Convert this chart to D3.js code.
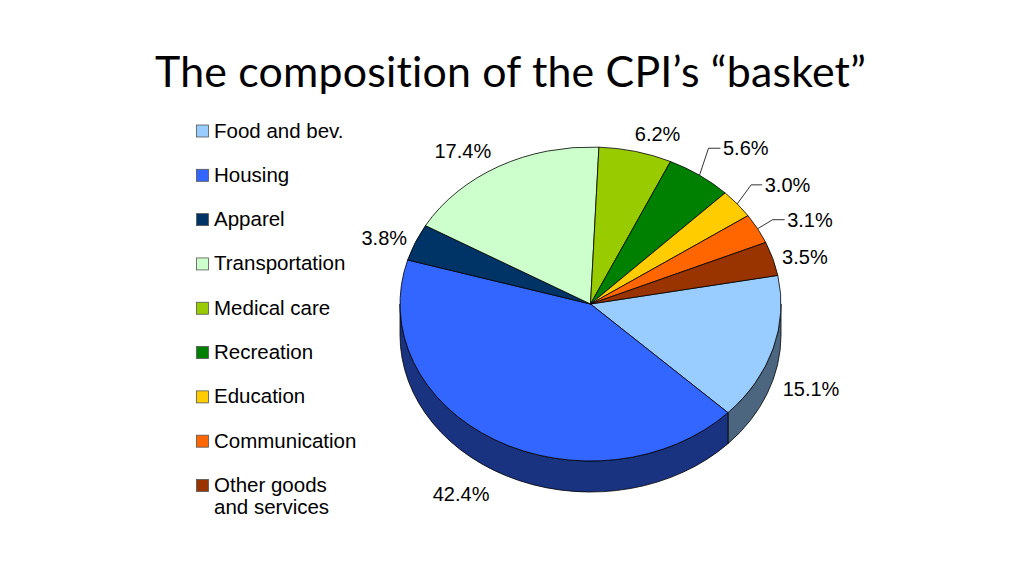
<!DOCTYPE html>
<html>
<head>
<meta charset="utf-8">
<script src="https://cdn.jsdelivr.net/npm/d3@7"></script>
<style>
  html, body { margin: 0; padding: 0; background: #fff; }
  svg { display: block; }
  text { font-variant-ligatures: none; font-feature-settings: "liga" 0, "dlig" 0, "clig" 0; }
  .title { letter-spacing: 0.2px; }
</style>
</head>
<body>
<svg id="chart" width="1024" height="576"></svg>
<script>
// ---- data ----
const categories = ["Food and bev.", "Housing", "Apparel", "Transportation", "Medical care", "Recreation", "Education", "Communication", "Other goods and services"];
const legendLines = [["Food and bev."], ["Housing"], ["Apparel"], ["Transportation"], ["Medical care"], ["Recreation"], ["Education"], ["Communication"], ["Other goods", "and services"]];
const values = [15.1, 42.4, 3.8, 17.4, 6.2, 5.6, 3.0, 3.1, 3.5];
const colors = ["#99ccff", "#3366ff", "#003366", "#ccffcc", "#99cc00", "#008000", "#ffcc00", "#ff6600", "#993300"];
const title = "The composition of the CPI\u2019s \u201cbasket\u201d";

// ---- layout ----
const W = 1024, H = 576;
const cx = 590.5, cy = 304, rx = 190.5, ry = 157, depth = 31;
const startDeg = 79.5;
// label placement relative to the slice's outer edge point at its mid angle
const labelLayout = [
  {dx: 38, dy: 40},
  {dx: -34, dy: 54},
  {dx: -31, dy: -5},
  {dx: -36, dy: -16},
  {dx: 22, dy: -18},
  {leader: [[9, -27], [21, -27]]},
  {leader: [[14, -19], [25, -19]]},
  {leader: [[15, -9], [27, -9]]},
  {dx: 32, dy: -2}
];

const svg = d3.select("#chart");

// title
svg.append("text")
  .attr("class", "title")
  .attr("x", 510.5).attr("y", 87)
  .attr("text-anchor", "middle")
  .attr("font-family", "Lato, 'Open Sans', sans-serif")
  .attr("font-size", 42)
  .attr("fill", "#000")
  .attr("textLength", 711)
  .attr("lengthAdjust", "spacingAndGlyphs")
  .text(title);

// pie layout
const start = startDeg * Math.PI / 180;
const pie = d3.pie().sort(null).value(d => d).startAngle(start).endAngle(start + 2 * Math.PI);
const arcs = pie(values);

const px = a => cx + rx * Math.sin(a);
const py = a => cy - ry * Math.cos(a);

function darker(c, k) {
  const r = d3.rgb(c);
  return d3.rgb(r.r * k, r.g * k, r.b * k).toString();
}

const g = svg.append("g");

// side walls (front half only: angles between PI/2 and 3PI/2)
const wallData = [];
arcs.forEach((d, i) => {
  for (let k = -1; k <= 1; k++) {
    const lo = Math.PI / 2 + k * 2 * Math.PI, hi = 1.5 * Math.PI + k * 2 * Math.PI;
    const a0 = Math.max(d.startAngle, lo), a1 = Math.min(d.endAngle, hi);
    if (a1 > a0) wallData.push({a0, a1, i});
  }
});
g.selectAll("path.wall").data(wallData).join("path")
  .attr("class", "wall")
  .attr("d", w => {
    const large = (w.a1 - w.a0) > Math.PI ? 1 : 0;
    return `M${px(w.a0)},${py(w.a0)}` +
      `A${rx},${ry} 0 ${large} 1 ${px(w.a1)},${py(w.a1)}` +
      `L${px(w.a1)},${py(w.a1) + depth}` +
      `A${rx},${ry} 0 ${large} 0 ${px(w.a0)},${py(w.a0) + depth}Z`;
  })
  .attr("fill", w => darker(colors[w.i], 0.5))
  .attr("stroke", "#000")
  .attr("stroke-width", 0.8)
  .attr("stroke-linejoin", "round");

// top faces
g.selectAll("path.top").data(arcs).join("path")
  .attr("class", "top")
  .attr("d", d => {
    const large = (d.endAngle - d.startAngle) > Math.PI ? 1 : 0;
    return `M${cx},${cy}L${px(d.startAngle)},${py(d.startAngle)}` +
      `A${rx},${ry} 0 ${large} 1 ${px(d.endAngle)},${py(d.endAngle)}Z`;
  })
  .attr("fill", (d, i) => colors[i])
  .attr("stroke", "#000")
  .attr("stroke-width", 0.8)
  .attr("stroke-linejoin", "round");

// data labels
const fmt = d3.format(".1f");
const labelFont = "'Liberation Sans', Arial, sans-serif";
arcs.forEach((d, i) => {
  const mid = (d.startAngle + d.endAngle) / 2;
  const ex = px(mid), ey = py(mid);
  const L = labelLayout[i];
  const txt = fmt(values[i]) + "%";
  if (L.leader) {
    const p1 = [ex + L.leader[0][0], ey + L.leader[0][1]];
    const p2 = [ex + L.leader[1][0], ey + L.leader[1][1]];
    svg.append("path")
      .attr("d", `M${ex},${ey}L${p1[0]},${p1[1]}L${p2[0]},${p2[1]}`)
      .attr("fill", "none").attr("stroke", "#000").attr("stroke-width", 0.8);
    svg.append("text")
      .attr("x", p2[0] + 2.5).attr("y", p2[1])
      .attr("dy", "0.36em")
      .attr("text-anchor", "start")
      .attr("font-family", labelFont).attr("font-size", 20)
      .attr("fill", "#000")
      .text(txt);
  } else {
    svg.append("text")
      .attr("x", ex + L.dx).attr("y", ey + L.dy)
      .attr("dy", "0.36em")
      .attr("text-anchor", "middle")
      .attr("font-family", labelFont).attr("font-size", 20)
      .attr("fill", "#000")
      .text(txt);
  }
});

// legend
const legY = d3.scalePoint().domain(d3.range(categories.length)).range([137.5, 492]);
const leg = svg.append("g");
categories.forEach((c, i) => {
  const y = legY(i);
  leg.append("rect")
    .attr("x", 196.5).attr("y", y - 12.5)
    .attr("width", 12).attr("height", 12)
    .attr("fill", colors[i]).attr("stroke", "#555").attr("stroke-width", 0.8);
  const tx = leg.append("text")
    .attr("x", 214).attr("y", y)
    .attr("font-family", labelFont).attr("font-size", 20.5)
    .attr("fill", "#000");
  legendLines[i].forEach((ln, j) => {
    tx.append("tspan").attr("x", 214).attr("dy", j === 0 ? 0 : 22).text(ln);
  });
});
</script>
</body>
</html>
